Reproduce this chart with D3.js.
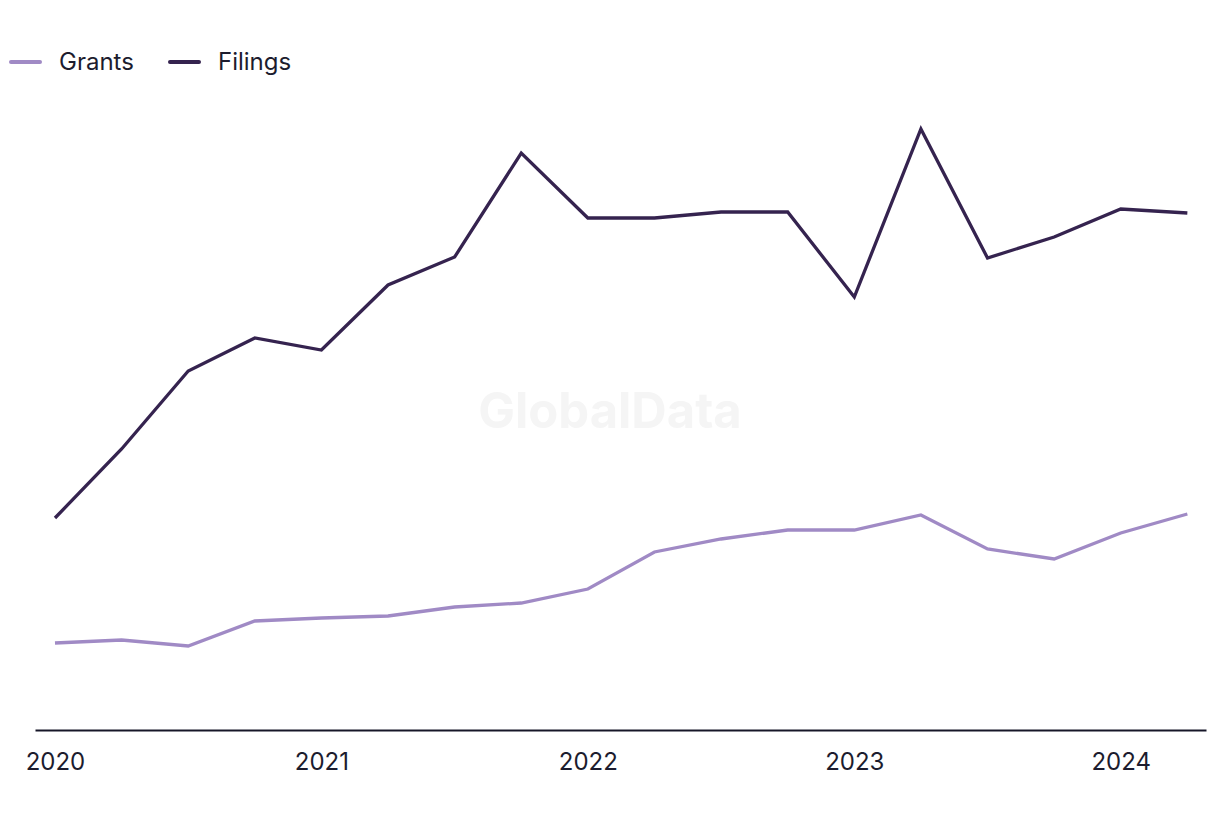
<!DOCTYPE html>
<html>
<head>
<meta charset="utf-8">
<script src="https://cdn.jsdelivr.net/npm/d3@7"></script>
<style>
  html, body { margin: 0; padding: 0; background: #ffffff; }
  svg { display: block; }
  text { font-family: Inter, "Noto Sans", sans-serif; }
</style>
</head>
<body>
<svg id="chart" width="1220" height="820"></svg>
<script>
// Quarterly periods, 2020 Q1 – 2024 Q2
const quarters = ["2020 Q1","2020 Q2","2020 Q3","2020 Q4",
                  "2021 Q1","2021 Q2","2021 Q3","2021 Q4",
                  "2022 Q1","2022 Q2","2022 Q3","2022 Q4",
                  "2023 Q1","2023 Q2","2023 Q3","2023 Q4",
                  "2024 Q1","2024 Q2"];
const filings = [212, 281, 359, 392, 380, 445, 473, 577, 512, 512, 518, 518, 433, 601, 472, 493, 521, 517];
const grants  = [87, 90, 84, 109, 112, 114, 123, 127, 141, 178, 191, 200, 200, 215, 181, 171, 197, 216];
const yearTicks = [0, 4, 8, 12, 16];
const yearLabels = ["2020", "2021", "2022", "2023", "2024"];
const seriesNames = ["Grants", "Filings"];
const seriesColors = ["#a08ac5", "#35234f"];

const svg = d3.select("#chart");

const x = d3.scaleLinear().domain([-0.3, 17.28]).range([35, 1206]);
const y = d3.scaleLinear().domain([0, 650]).range([730, 80]);

// watermark
svg.append("text")
  .attr("x", 610).attr("y", 428)
  .attr("text-anchor", "middle")
  .attr("font-size", 49)
  .attr("font-weight", 700)
  .attr("fill", "#f5f5f5")
  .text("GlobalData");

// x axis
const xAxis = d3.axisBottom(x)
  .tickValues(yearTicks)
  .tickSize(0)
  .tickPadding(23)
  .tickFormat((d, i) => yearLabels[i]);

const gx = svg.append("g").attr("transform", `translate(0,${y(0)})`).call(xAxis);
gx.select(".domain").attr("stroke", "#161628").attr("stroke-width", 2);
gx.selectAll(".tick text")
  .attr("font-size", 24)
  .attr("fill", "#1c1c2e")
  .attr("font-family", "Inter, 'Noto Sans', sans-serif");

// lines
const line = d3.line().x((d, i) => x(i)).y(d => y(d));
const seriesData = [grants, filings];
seriesData.forEach((vals, k) => {
  svg.append("path")
    .datum(vals)
    .attr("fill", "none")
    .attr("stroke", seriesColors[k])
    .attr("stroke-width", 3.3)
    .attr("stroke-linejoin", "miter")
    .attr("d", line);
});

// legend
const legendX = [10, 169];
const leg = svg.append("g");
seriesNames.forEach((name, k) => {
  leg.append("line")
    .attr("x1", legendX[k] + 1).attr("x2", legendX[k] + 30)
    .attr("y1", 62).attr("y2", 62)
    .attr("stroke", seriesColors[k])
    .attr("stroke-width", 4)
    .attr("stroke-linecap", "round");
  leg.append("text")
    .attr("x", legendX[k] + 49).attr("y", 70)
    .attr("font-size", 24)
    .attr("fill", "#1c1c2e")
    .text(name);
});
</script>
</body>
</html>
